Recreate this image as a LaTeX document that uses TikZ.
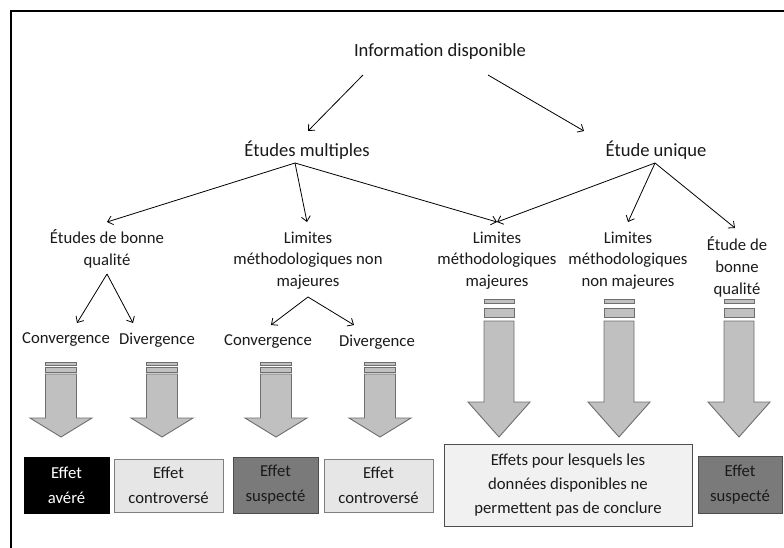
\documentclass[tikz,border=0pt]{standalone}
\usepackage{fontspec}
\setmainfont{Carlito}
\usetikzlibrary{arrows.meta}
\definecolor{arrfill}{HTML}{C0C0C0}
\definecolor{arrline}{HTML}{6E6E6E}
\definecolor{lightbox}{HTML}{E6E6E6}
\definecolor{lightline}{HTML}{7F7F7F}
\definecolor{darkbox}{HTML}{7A7A7A}
\definecolor{darkline}{HTML}{4D4D4D}
\definecolor{bigbox}{HTML}{F1F1F1}
\definecolor{txt}{HTML}{1A1A1A}
\begin{document}
\begin{tikzpicture}[x=1pt,y=-1pt,
  lbl/.style={inner sep=0pt,align=center,text=txt,font=\fontsize{16.7}{21.7}\selectfont},
  toplbl/.style={lbl,font=\fontsize{18.6}{22}\selectfont},
  boxtxt/.style={inner sep=0pt,align=center,font=\fontsize{16.7}{25}\selectfont},
  con/.style={draw=black,line width=0.8pt,-{Straight Barb[length=5pt,width=9pt]}},
  barrow/.style={fill=arrfill,draw=arrline,line width=0.9pt,line join=miter},
  effblack/.style={fill=black,draw=black,line width=0.8pt},
  efflight/.style={fill=lightbox,draw=lightline,line width=0.8pt},
  effdark/.style={fill=darkbox,draw=darkline,line width=0.8pt},
  effbig/.style={fill=bigbox,draw=darkline,line width=0.8pt}]
\useasboundingbox (0,0) rectangle (784,547);
\fill[white] (0,0) rectangle (784,547);
% frame
\draw[line width=2.2pt] (11,560) -- (11,11) -- (800,11);

% top level labels
\node[toplbl] (info) at (440,52) {Information disponible};
\node[toplbl] (em) at (307,150) {Études multiples};
\node[toplbl] (eu) at (656,150) {Étude unique};

\coordinate (infoL) at (363,75);
\coordinate (infoR) at (488,75);
\coordinate (emT) at (308,131);
\coordinate (euT) at (584,131);
\draw[con] (infoL) -- (emT);
\draw[con] (infoR) -- (euT);

% second level
\node[lbl] (q1) at (107,249) {Études de bonne\\qualité};
\node[lbl] (q2) at (308,260.5) {Limites\\méthodologiques non\\majeures};
\node[lbl] (q3) at (497,260.5) {Limites\\méthodologiques\\majeures};
\node[lbl] (q4) at (628,260.5) {Limites\\méthodologiques\\non majeures};
\node[lbl] (q5) at (737,267) {Étude de\\bonne\\qualité};

\coordinate (emA) at (295,163);
\coordinate (euA) at (655,163);
\coordinate (q1T) at (107,222);
\coordinate (q2T) at (307,222);
\coordinate (q3T) at (497,222);
\coordinate (q4T) at (628,222);
\coordinate (q5T) at (735,228);
\draw[con] (emA) -- (q1T);
\draw[con] (emA) -- (q2T);
\draw[con] (emA) -- (q3T);
\draw[con] (euA) -- (q3T);
\draw[con] (euA) -- (q4T);
\draw[con] (euA) -- (q5T);

% third level
\node[lbl] (c1) at (66,340) {Convergence};
\node[lbl] (d1) at (157,340) {Divergence};
\node[lbl] (c2) at (268,342) {Convergence};
\node[lbl] (d2) at (377,342) {Divergence};

\coordinate (q1A) at (107,274);
\coordinate (q2A) at (308,297);
\coordinate (c1T) at (77,323);
\coordinate (d1T) at (133,323);
\coordinate (c2T) at (271,325);
\coordinate (d2T) at (354,325);
\draw[con] (q1A) -- (c1T);
\draw[con] (q1A) -- (d1T);
\draw[con] (q2A) -- (c2T);
\draw[con] (q2A) -- (d2T);

% short block arrows
\foreach \cx in {61,162,276,380}{
  \draw[barrow] ({\cx-15.5},362) rectangle ({\cx+15.5},365);
  \draw[barrow] ({\cx-15.5},367) rectangle ({\cx+15.5},372);
  \draw[barrow] ({\cx-15.5},374) -- ({\cx+15.5},374) -- ({\cx+15.5},418)
     -- ({\cx+31},418) -- (\cx,437) -- ({\cx-31},418) -- ({\cx-15.5},418) -- cycle;
}
% long block arrows
\foreach \cx in {499,619,739}{
  \draw[barrow] ({\cx-15},299) rectangle ({\cx+15},303);
  \draw[barrow] ({\cx-15},308) rectangle ({\cx+15},317);
  \draw[barrow] ({\cx-15},321) -- ({\cx+15},321) -- ({\cx+15},402)
     -- ({\cx+31},402) -- (\cx,437) -- ({\cx-31},402) -- ({\cx-15},402) -- cycle;
}

% result boxes
\draw[effblack] (24,457) rectangle (109,513);
\node[boxtxt,text=white] (b1) at (66.5,485) {Effet\\avéré};
\draw[efflight] (114,459) rectangle (223,512);
\node[boxtxt,text=txt] (b2) at (168.5,485.5) {Effet\\controversé};
\draw[effdark] (233,457) rectangle (318,513);
\node[boxtxt,text=txt] (b3) at (275.5,485) {Effet\\suspecté};
\draw[efflight] (324,459) rectangle (433,512);
\node[boxtxt,text=txt] (b4) at (378.5,485.5) {Effet\\controversé};
\draw[effbig] (444,444) rectangle (692,526);
\node[boxtxt,text=txt,font=\fontsize{16.7}{24}\selectfont] (b5) at (568,485) {Effets pour lesquels les\\données disponibles ne\\permettent pas de conclure};
\draw[effdark] (698,456) rectangle (782,513);
\node[boxtxt,text=txt] (b6) at (740,484.5) {Effet\\suspecté};
\end{tikzpicture}
\end{document}
